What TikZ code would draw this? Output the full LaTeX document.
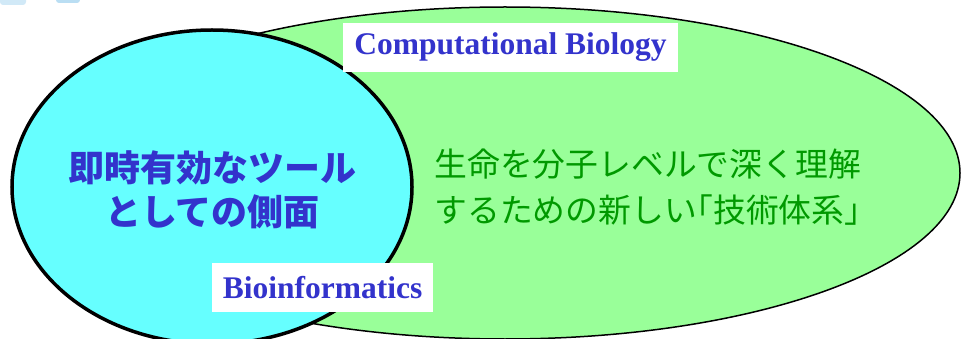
\documentclass[tikz,border=0pt]{standalone}
\usepackage{fontspec}
\setmainfont{Liberation Serif}
\newfontfamily\jp{Noto Sans CJK JP}
\usetikzlibrary{shapes.geometric}
\definecolor{cyanfill}{RGB}{102,255,255}
\definecolor{greenfill}{RGB}{153,255,153}
\definecolor{txtblue}{RGB}{51,51,204}
\definecolor{txtgreen}{RGB}{0,153,0}
\definecolor{logoblue}{RGB}{140,200,235}
\tikzset{
  bigell/.style={ellipse, draw=black, inner sep=0pt, outer sep=0pt},
  labelbox/.style={fill=white, inner sep=0pt, text=txtblue,
    font=\fontsize{31.5}{34}\selectfont\bfseries},
  jpleft/.style={text=txtblue, align=center,
    font=\jp\fontsize{36}{44}\selectfont\bfseries},
  jpright/.style={text=txtgreen, align=left, anchor=west,
    font=\jp\fontsize{32.8}{46}\selectfont},
}
\newcommand{\hbr}[1]{{\addfontfeature{RawFeature=+halt}#1}}
\begin{document}
\begin{tikzpicture}[x=1pt,y=-1pt]
\useasboundingbox (0,0) rectangle (961,339);
% faint fragment of a logo at top left
\fill[logoblue, opacity=0.4, rounded corners=3pt] (0,-4) rectangle (26,5);
\fill[logoblue, opacity=0.6, rounded corners=3pt] (56,-4) rectangle (80,3);
% ellipses
\node[bigell, fill=greenfill, line width=1.5pt, minimum width=910pt, minimum height=332pt] (cb) at (505,173) {};
\node[bigell, fill=cyanfill, line width=3.5pt, minimum width=400pt, minimum height=314pt] (bi) at (212,187) {};
% label boxes
\node[labelbox, minimum width=335pt, minimum height=49pt] (cblabel) at (510.5,47.5) {Computational Biology};
\node[labelbox, minimum width=221pt, minimum height=49pt] (bilabel) at (322.5,287.5) {Bioinformatics};
% texts
\node[jpleft] (lefttext) at (212.5,190) {即時有効なツール\\としての側面};
\node[jpright] (righttext) at (431,187) {生命を分子レベルで深く理解\\するための新しい\hbr{「}技術体系\hbr{」}};
\end{tikzpicture}
\end{document}
